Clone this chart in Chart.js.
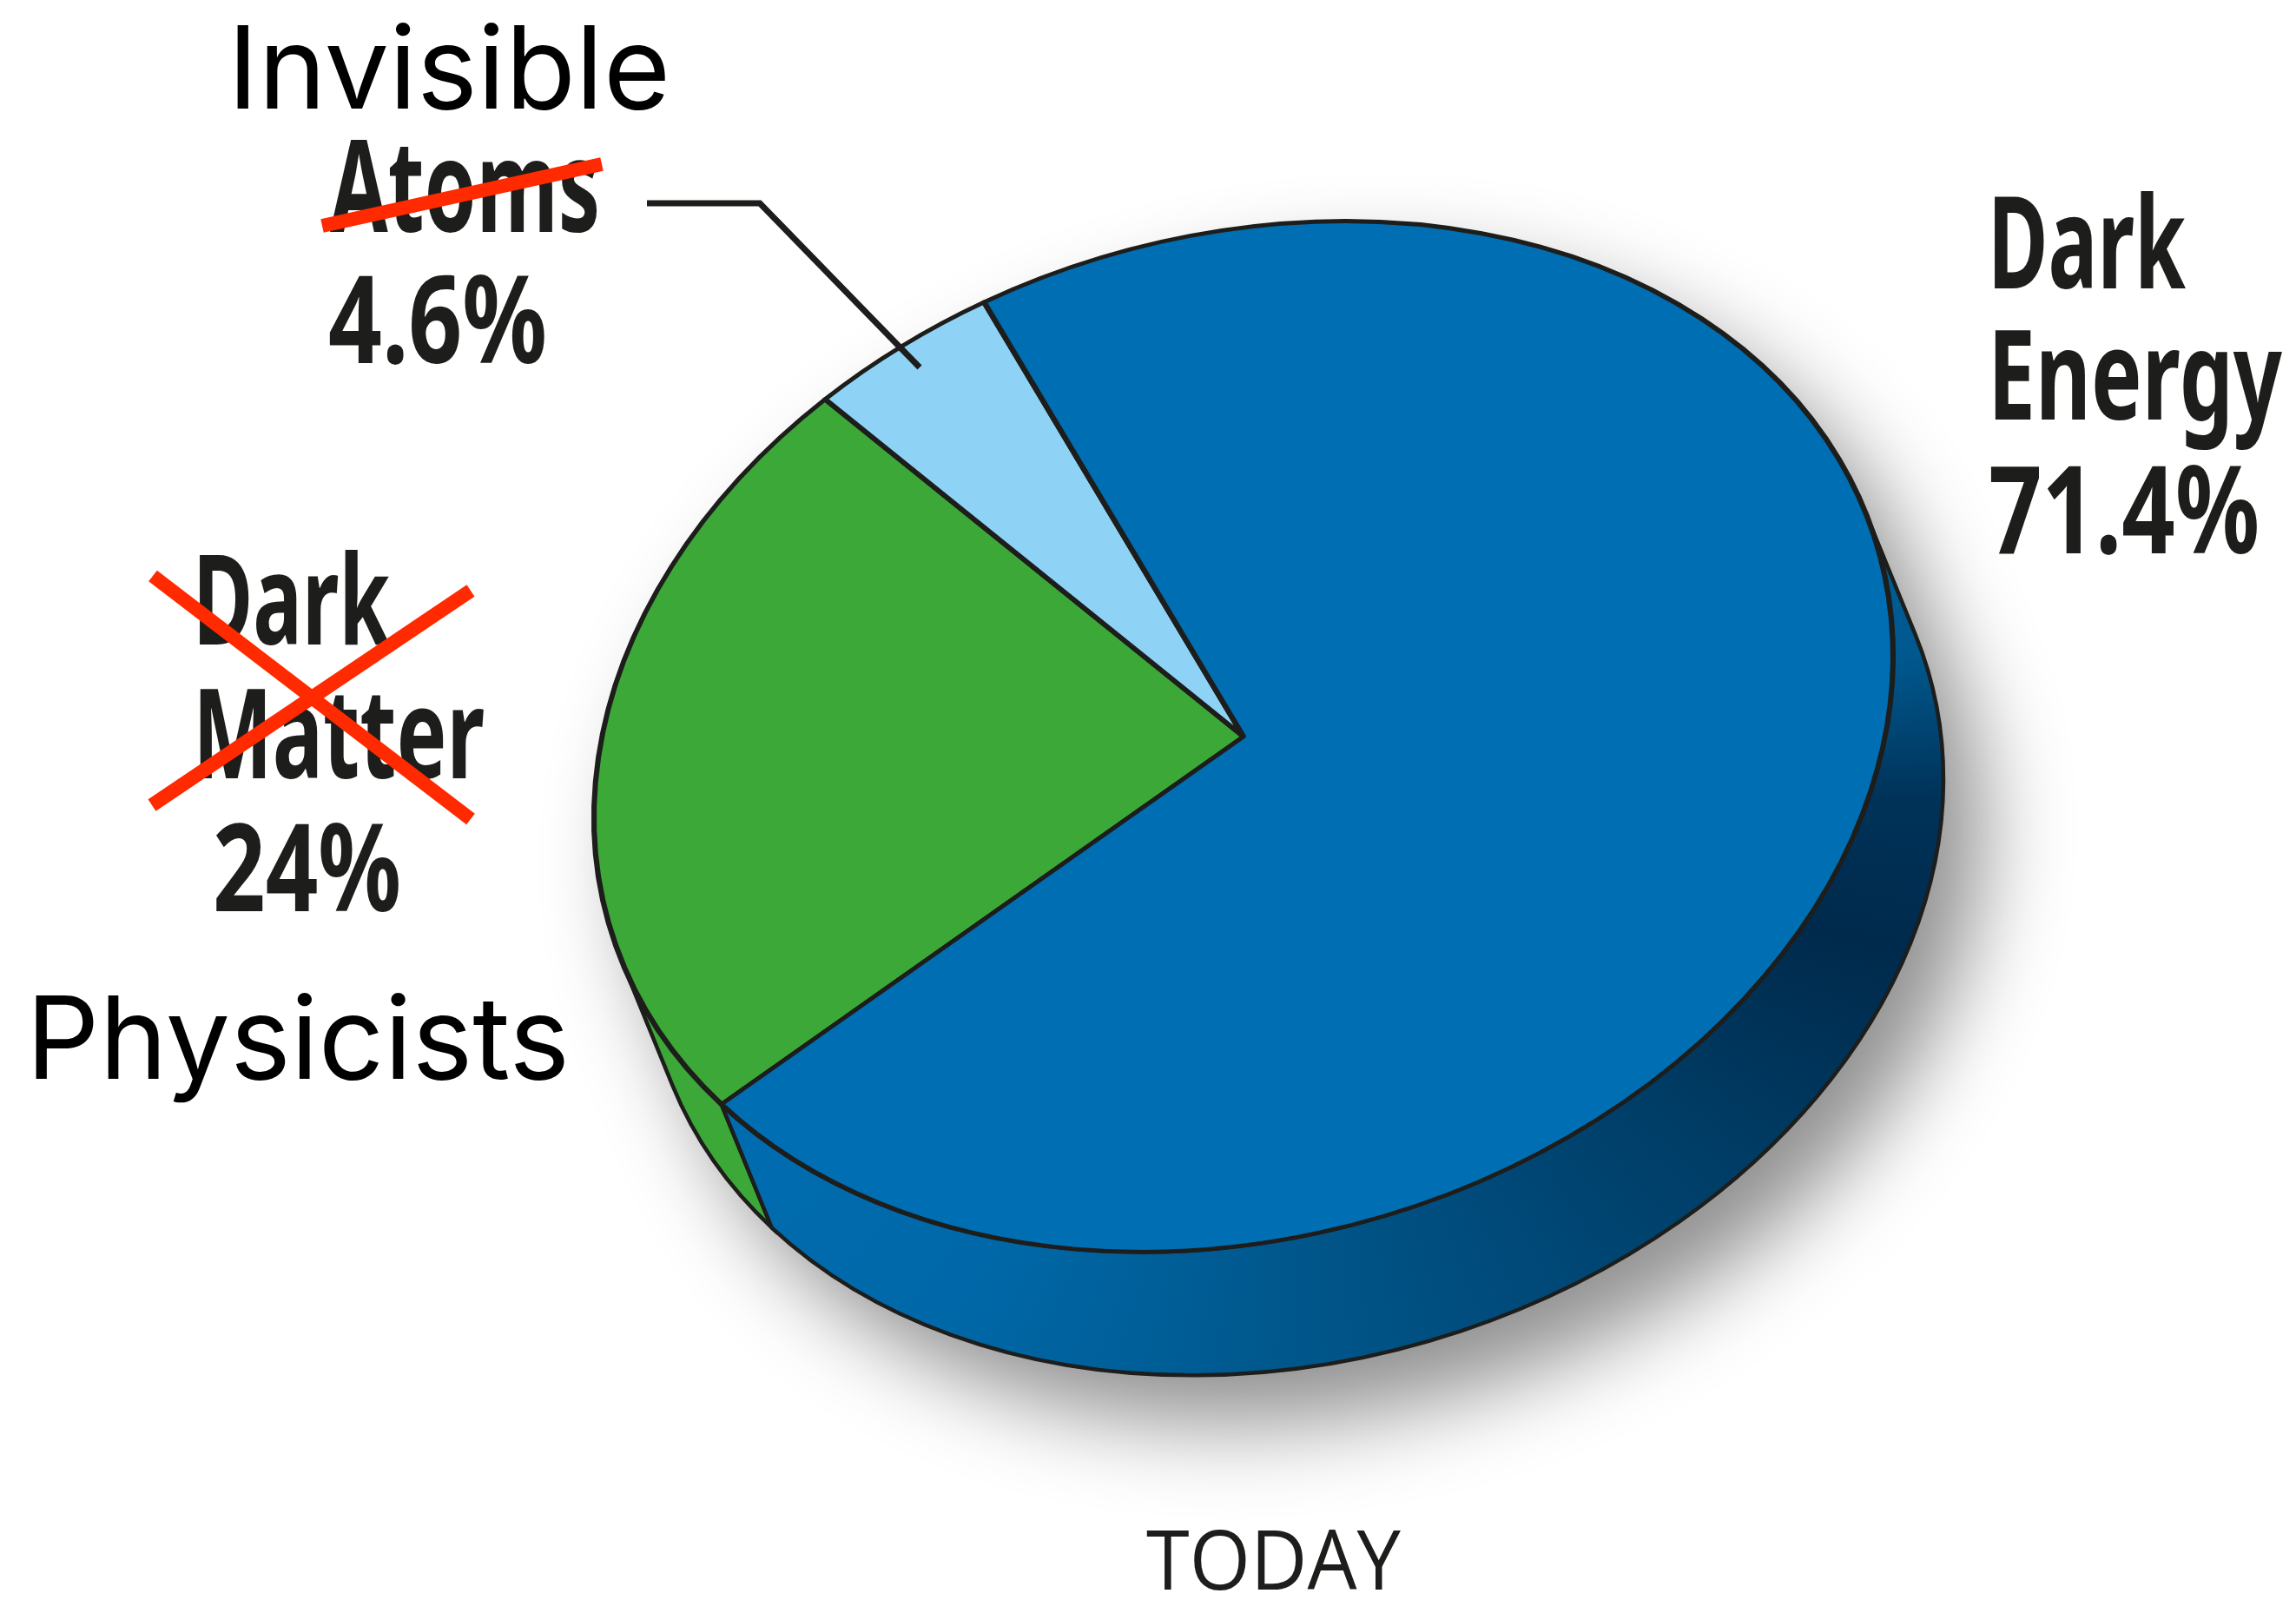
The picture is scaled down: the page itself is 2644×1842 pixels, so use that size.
<!DOCTYPE html>
<html>
<head>
<meta charset="utf-8">
<title>Today</title>
<script src="https://cdn.jsdelivr.net/npm/chart.js@4"></script>
<style>
    html, body { margin: 0; padding: 0; background: #ffffff; }
    #box { position: relative; width: 2644px; height: 1842px; }
</style>
</head>
<body>
<div id="box"><canvas id="pieChart"></canvas></div>
<script>
const sliceLabels = ['Dark Matter', 'Atoms', 'Dark Energy'];
const sliceValues = [24, 4.6, 71.4];
const sliceColors = ['#3ca838', '#8ed3f6', '#006eb3'];
const captionText = 'TODAY';
const headingAtoms = 'Invisible';
const headingMatter = 'Physicists';

const inkColor = '#1d1d1b';
const redColor = '#ff2a00';

// tilted disc: unit circle -> screen is (a, b, 0, d, cx, cy)
const disc = { cx: 1432, cy: 848, a: 748, b: -93, d: 586 };
const depth = { x: 58, y: 142 };
const startDegrees = 233.5;

// [text, left, baseline, width, cap height]
function calloutRows() {
    const matter = sliceLabels[0].split(' ');
    const energy = sliceLabels[2].split(' ');
    return [
        [matter[0], 222, 742, 227, 103],
        [matter[1], 222, 896, 336, 103],
        [sliceValues[0] + '%', 245, 1049, 217, 100],
        [sliceLabels[1], 380, 267, 311, 105],
        [sliceValues[1] + '%', 378, 418, 252, 100],
        [energy[0], 2289, 332, 228, 105],
        [energy[1], 2289, 483, 339, 103],
        [sliceValues[2] + '%', 2290, 637, 312, 100]
    ];
}

function fitText(ctx, text, x, y, width, capHeight, weight, family, color) {
    const size = capHeight / 0.716;
    ctx.save();
    ctx.font = weight + ' ' + size + 'px ' + family;
    ctx.fillStyle = color;
    ctx.textBaseline = 'alphabetic';
    ctx.textAlign = 'left';
    const natural = ctx.measureText(text).width;
    ctx.translate(x, y);
    ctx.scale(width / natural, 1);
    ctx.fillText(text, 0, 0);
    ctx.restore();
}

function strokeLine(ctx, points, width, color) {
    ctx.save();
    ctx.beginPath();
    points.forEach(function(p, i) {
        if (i === 0) ctx.moveTo(p[0], p[1]); else ctx.lineTo(p[0], p[1]);
    });
    ctx.lineWidth = width;
    ctx.strokeStyle = color;
    ctx.lineCap = 'butt';
    ctx.lineJoin = 'miter';
    ctx.stroke();
    ctx.restore();
}

function sideGradient(ctx) {
    const g = ctx.createConicGradient(0, 1490, 920);
    const stops = [
        [0, '#003258'], [14, '#002a4c'], [40, '#003d66'], [65, '#004a7a'],
        [89, '#00568a'], [124, '#0068a8'], [150, '#006cb0'], [200, '#006cb0'],
        [300, '#006cb0'], [335, '#005f99'], [347, '#00588e'], [360, '#003258']
    ];
    stops.forEach(function(s) { g.addColorStop(s[0] / 360, s[1]); });
    return g;
}

// side wall plus its soft drop shadow, below the top face
const discWall = {
    id: 'discWall',
    beforeDatasetsDraw(chart) {
        const ctx = chart.ctx;
        const ox = depth.x / disc.a;
        const oy = (depth.y - disc.b * ox) / disc.d;
        const phi = Math.atan2(oy, ox);
        const t1 = phi - Math.PI / 2;
        const t2 = phi + Math.PI / 2;

        // whole silhouette, for the shadow
        ctx.save();
        ctx.save();
        ctx.transform(disc.a, disc.b, 0, disc.d, disc.cx, disc.cy);
        ctx.beginPath();
        ctx.arc(ox, oy, 1, t1, t2, false);
        ctx.arc(0, 0, 1, t2, t1 + Math.PI * 2, false);
        ctx.closePath();
        ctx.restore();
        ctx.shadowColor = 'rgba(0,0,0,0.44)';
        ctx.shadowBlur = 100;
        ctx.shadowOffsetX = 45;
        ctx.shadowOffsetY = 55;
        ctx.fillStyle = '#006cb0';
        ctx.fill();
        ctx.restore();

        // one wall piece per slice that faces the viewer
        chart.getDatasetMeta(0).data.forEach(function(arc, i) {
            for (let k = -2; k <= 2; k++) {
                const s = Math.max(arc.startAngle + k * Math.PI * 2, t1);
                const e = Math.min(arc.endAngle + k * Math.PI * 2, t2);
                if (e <= s) continue;
                ctx.save();
                ctx.save();
                ctx.transform(disc.a, disc.b, 0, disc.d, disc.cx, disc.cy);
                ctx.beginPath();
                ctx.arc(0, 0, 1, s, e, false);
                ctx.arc(ox, oy, 1, e, s, true);
                ctx.closePath();
                ctx.restore();
                ctx.fillStyle = i === 2 ? sideGradient(ctx) : sliceColors[i];
                ctx.fill();
                ctx.lineWidth = 4.5;
                ctx.strokeStyle = inkColor;
                ctx.stroke();
                ctx.restore();
            }
        });
    }
};

// squash the round pie onto the tilted disc while the slices are drawn
const discTilt = {
    id: 'discTilt',
    beforeDatasetDraw(chart) {
        const ctx = chart.ctx;
        const arc = chart.getDatasetMeta(0).data[0];
        const r = arc.outerRadius;
        ctx.save();
        ctx.transform(disc.a / r, disc.b / r, 0, disc.d / r, disc.cx, disc.cy);
        ctx.translate(-arc.x, -arc.y);
    },
    afterDatasetDraw(chart) {
        chart.ctx.restore();
    }
};

// callouts, leader and strike-through marks
const callouts = {
    id: 'callouts',
    afterDatasetsDraw(chart) {
        const ctx = chart.ctx;
        calloutRows().forEach(function(r) {
            fitText(ctx, r[0], r[1], r[2], r[3], r[4], 'bold', '"Noto Sans", sans-serif', inkColor);
        });
        fitText(ctx, captionText, 1320, 1830, 293, 68, 'normal', '"Open Sans", sans-serif', inkColor);
        fitText(ctx, headingAtoms, 262, 125, 510, 94, 'normal', 'Inter, sans-serif', '#000000');
        fitText(ctx, headingMatter, 30, 1242, 626, 94, 'normal', 'Inter, sans-serif', '#000000');

        strokeLine(ctx, [[745, 234], [875, 234], [1059, 423]], 7, inkColor);
        strokeLine(ctx, [[371, 260], [693, 189]], 16, redColor);
        strokeLine(ctx, [[176, 663], [542, 943]], 16, redColor);
        strokeLine(ctx, [[175, 927], [542, 680]], 16, redColor);
    }
};

document.addEventListener('DOMContentLoaded', (event) => {
    var ctx = document.getElementById('pieChart').getContext('2d');
    var pieChart = new Chart(ctx, {
        type: 'pie',
        data: {
            labels: sliceLabels,
            datasets: [{
                data: sliceValues,
                backgroundColor: sliceColors,
                borderColor: inkColor,
                borderWidth: 7.5,
                borderJoinStyle: 'round',
                clip: false
            }]
        },
        options: {
            responsive: true,
            maintainAspectRatio: false,
            animation: false,
            rotation: startDegrees,
            layout: { padding: 0 },
            plugins: {
                legend: { display: false },
                tooltip: { enabled: false }
            }
        },
        plugins: [discWall, discTilt, callouts]
    });
});
</script>
</body>
</html>
